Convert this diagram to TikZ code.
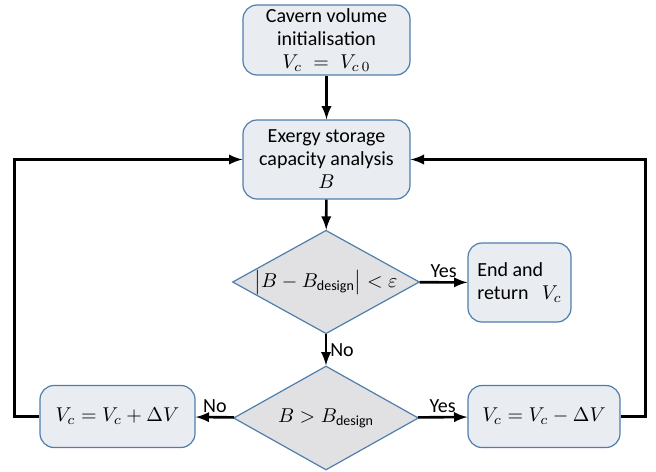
\documentclass[tikz,border=0pt]{standalone}
\usepackage{amsmath}
\usepackage{fontspec}
\setmainfont{Carlito}
\usetikzlibrary{arrows}
\usetikzlibrary{positioning}
\usetikzlibrary{shapes.geometric}
\definecolor{boxfill}{HTML}{E9ECF1}
\definecolor{diafill}{HTML}{E1E1E4}
\definecolor{edgeblue}{HTML}{4F7EAD}
\tikzset{proc/.style = {draw = edgeblue, fill = boxfill, rounded corners = 7, align = center, inner sep = 0, line width = 0.6, font = \fontsize{10}{11.5}\selectfont}}
\tikzset{decide/.style = {draw = edgeblue, fill = diafill, diamond, aspect = 1.8, inner sep = 0, line width = 0.6, font = \fontsize{10}{12}\selectfont}}
\tikzset{flow/.style = {-latex, line width = 1.3}}
\tikzset{lbl/.style = {font = \fontsize{10}{11}\selectfont, inner sep = 1.5}}

\begin{document}
\begin{tikzpicture}[x = 0.5pt, y = -0.5pt]
      \useasboundingbox (0, 0) rectangle (656, 471);

      \node [proc, minimum width = 83.5pt, minimum height = 35pt] (init) at (326.5, 40) {Cavern volume\\initialisation\\$V_c \;=\; V_{c\,0}$};
      \node [proc, minimum width = 83.5pt, minimum height = 39.5pt] (exergy) at (326.5, 159.5) {Exergy storage\\capacity analysis\\$B$};
      \node [decide, minimum width = 93.5pt, minimum height = 51pt] (check) at (326, 282) {$\bigl|B - B_{\mathrm{design}}\bigr| < \varepsilon$};
      \node [proc, minimum width = 51.5pt, minimum height = 39.5pt, align = left] (done) at (519.5, 282.5) {End and\\return \;\,$V_c$};
      \node [decide, minimum width = 92.5pt, minimum height = 52pt] (larger) at (326, 418) {$B > B_{\mathrm{design}}$};
      \node [proc, minimum width = 77.5pt, minimum height = 31pt] (plus) at (117.5, 416.5) {$V_c = V_c + \Delta V$};
      \node [proc, minimum width = 76pt, minimum height = 31pt] (minus) at (544, 416.5) {$V_c = V_c - \Delta V$};

      \draw [flow] (init) -- (exergy);
      \draw [flow] (exergy) -- (check);
      \draw [flow] (check) -- node [lbl, above] {Yes} (done);
      \draw [flow] (check) -- node [lbl, right] {No} (larger);
      \draw [flow] (larger) -- node [lbl, above] {Yes} (minus);
      \draw [flow] (larger) -- node [lbl, above] {No} (plus);
      \draw [flow] (plus.west) -- ++(-25, 0) |- (exergy.west);
      \draw [flow] (minus.east) -- ++(25, 0) |- (exergy.east);
    \end{tikzpicture}
\end{document}
